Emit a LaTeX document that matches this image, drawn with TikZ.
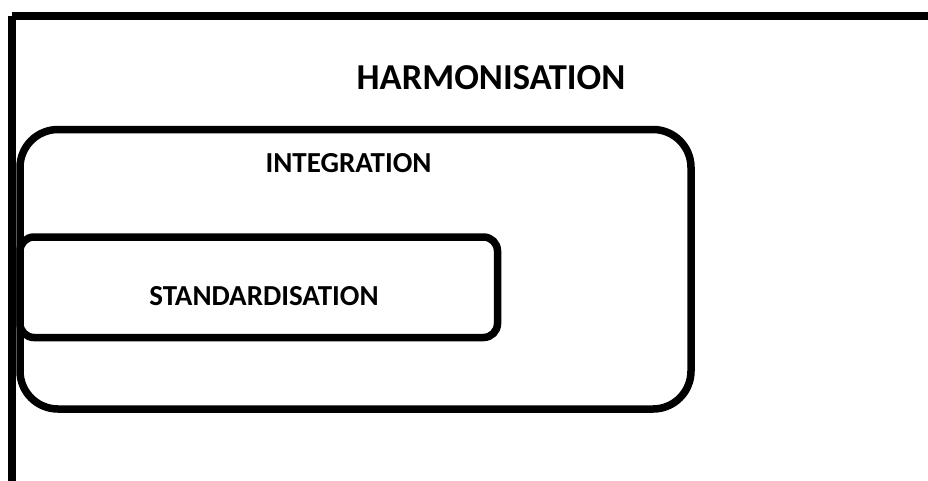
\documentclass[tikz,border=0pt]{standalone}
\usepackage{fontspec}
\setmainfont{Carlito}
\begin{document}
\begin{tikzpicture}[x=1pt,y=-1pt,
  frame/.style={draw=black, line width=8pt},
  box/.style={draw=black, line width=7.5pt, fill=none, inner sep=0pt, outer sep=0pt},
  bigtitle/.style={font=\fontsize{36.5}{40}\selectfont\bfseries, inner sep=0pt},
  title/.style={font=\fontsize{29}{32}\selectfont\bfseries, inner sep=0pt}]
\useasboundingbox (0,0) rectangle (928,480);
\clip (0,0) rectangle (928,480);
\fill[white] (0,0) rectangle (928,480);
% outer frame (Harmonisation)
\draw[frame] (12,16) -- (950,16) (12,16) -- (12,500);
\node[box, rounded corners=38pt, minimum width=671pt, minimum height=279.5pt] (integ) at (355.5,269.25) {};
\node[box, rounded corners=14pt, minimum width=477.5pt, minimum height=100.5pt] (stand) at (258.75,287.25) {};
\node[bigtitle] (harmt) at (491,77.5) {HARMONISATION};
\node[title] (integt) at (348.5,163.5) {INTEGRATION};
\node[title] (standt) at (264,296) {STANDARDISATION};
\end{tikzpicture}
\end{document}
